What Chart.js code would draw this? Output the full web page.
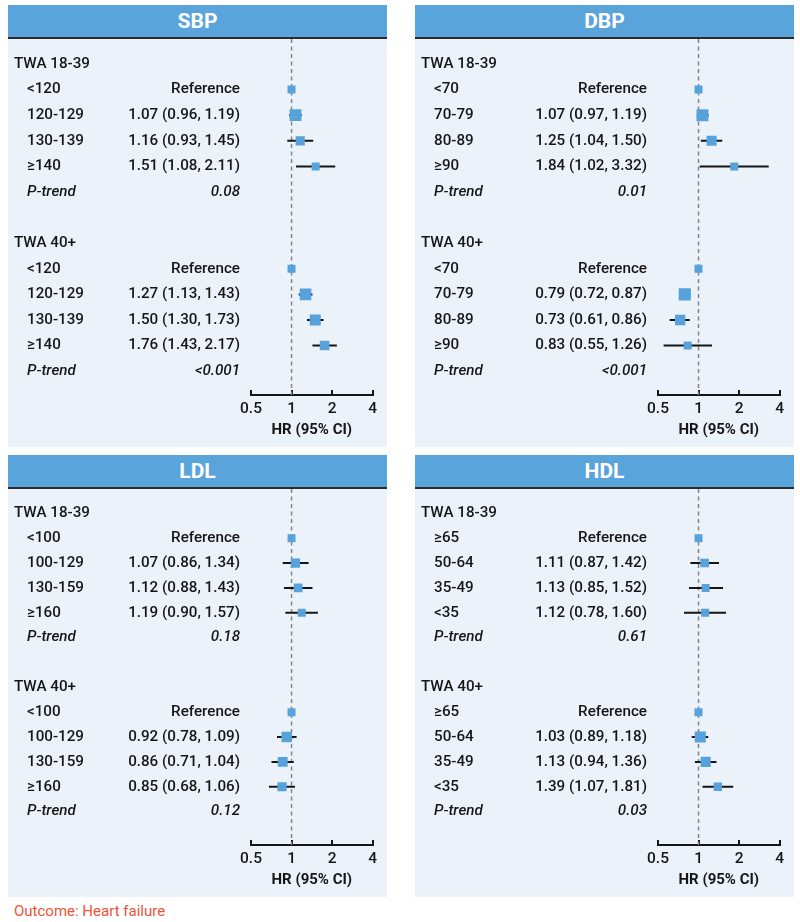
<!DOCTYPE html>
<html>
<head>
<meta charset="utf-8">
<script src="https://cdn.jsdelivr.net/npm/chart.js@4.4.0/dist/chart.umd.min.js"></script>
<style>
  body { margin: 0; background: #fff; width: 800px; height: 922px; position: relative; font-family: Roboto, sans-serif; }
  .panel { position: absolute; width: 379px; }
  .head { height: 32px; background: #5aa4dc; border-bottom: 2px solid #2b2b2b; color: #fff; font-weight: bold; font-size: 21px; line-height: 33px; text-align: center; }
  .body { background: #ebf2fa; height: 408px; }
  canvas { display: block; }
  #note { position: absolute; left: 14px; top: 902px; color: #ee5339; font-size: 15px; }
</style>
</head>
<body>
<div class="panel" style="left:8px;top:5px"><div class="head">SBP</div><div class="body"><canvas id="sbp" width="379" height="408"></canvas></div></div>
<div class="panel" style="left:415px;top:5px"><div class="head">DBP</div><div class="body"><canvas id="dbp" width="379" height="408"></canvas></div></div>
<div class="panel" style="left:8px;top:455px"><div class="head">LDL</div><div class="body"><canvas id="ldl" width="379" height="408"></canvas></div></div>
<div class="panel" style="left:415px;top:455px"><div class="head">HDL</div><div class="body"><canvas id="hdl" width="379" height="408"></canvas></div></div>
<div id="note">Outcome: Heart failure</div>
<script>
// tick labels on the HR axis
const xTicks = [0.5, 1, 2, 4];
const groupNames = ['TWA 18-39', 'TWA 40+'];

// SBP
const sbpCats = ['<120', '120-129', '130-139', '≥140'];
const sbpYoungHR = [1, 1.07, 1.16, 1.51];
const sbpYoungLo = [null, 0.96, 0.93, 1.08];
const sbpYoungHi = [null, 1.19, 1.45, 2.11];
const sbpYoungP = '0.08';
const sbpOldHR = [1, 1.27, 1.50, 1.76];
const sbpOldLo = [null, 1.13, 1.30, 1.43];
const sbpOldHi = [null, 1.43, 1.73, 2.17];
const sbpOldP = '<0.001';

// DBP
const dbpCats = ['<70', '70-79', '80-89', '≥90'];
const dbpYoungHR = [1, 1.07, 1.25, 1.84];
const dbpYoungLo = [null, 0.97, 1.04, 1.02];
const dbpYoungHi = [null, 1.19, 1.50, 3.32];
const dbpYoungP = '0.01';
const dbpOldHR = [1, 0.79, 0.73, 0.83];
const dbpOldLo = [null, 0.72, 0.61, 0.55];
const dbpOldHi = [null, 0.87, 0.86, 1.26];
const dbpOldP = '<0.001';

// LDL
const ldlCats = ['<100', '100-129', '130-159', '≥160'];
const ldlYoungHR = [1, 1.07, 1.12, 1.19];
const ldlYoungLo = [null, 0.86, 0.88, 0.90];
const ldlYoungHi = [null, 1.34, 1.43, 1.57];
const ldlYoungP = '0.18';
const ldlOldHR = [1, 0.92, 0.86, 0.85];
const ldlOldLo = [null, 0.78, 0.71, 0.68];
const ldlOldHi = [null, 1.09, 1.04, 1.06];
const ldlOldP = '0.12';

// HDL
const hdlCats = ['≥65', '50-64', '35-49', '<35'];
const hdlYoungHR = [1, 1.11, 1.13, 1.12];
const hdlYoungLo = [null, 0.87, 0.85, 0.78];
const hdlYoungHi = [null, 1.42, 1.52, 1.60];
const hdlYoungP = '0.61';
const hdlOldHR = [1, 1.03, 1.13, 1.39];
const hdlOldLo = [null, 0.89, 0.94, 1.07];
const hdlOldHi = [null, 1.18, 1.36, 1.81];
const hdlOldP = '0.03';

const TEXT = '#161616';
const BLUE = '#58a2db';
const FONT = 'Roboto';
const FS = 15.2;

function fmt(v) { return v.toFixed(2); }

// box side in px: smaller boxes for wider intervals
function boxSide(lo, hi) {
  if (lo == null) return 8;
  const w = Math.log(hi / lo);
  return Math.max(8, Math.min(12.5, 8 + 4 * (0.55 - w) / 0.35));
}

function buildRows(cats, groups) {
  const rows = [];
  groups.forEach((g, gi) => {
    if (gi) rows.push({ label: '' });
    rows.push({ label: groupNames[gi], group: true });
    cats.forEach((c, i) => rows.push({
      label: c,
      value: g.lo[i] == null ? 'Reference' : `${fmt(g.hr[i])} (${fmt(g.lo[i])}, ${fmt(g.hi[i])})`,
      hr: g.hr[i], lo: g.lo[i], hi: g.hi[i]
    }));
    rows.push({ label: 'P-trend', value: g.p, italic: true });
  });
  return rows;
}

function rowText(rows) {
  return {
    id: 'rowText',
    beforeDatasetsDraw(chart) {
      const ctx = chart.ctx, ys = chart.scales.y;
      ctx.save();
      ctx.fillStyle = TEXT;
      ctx.textBaseline = 'middle';
      rows.forEach((r, i) => {
        if (!r.label) return;
        const py = ys.getPixelForValue(i);
        ctx.font = (r.italic ? 'italic ' : '') + '500 ' + FS + 'px ' + FONT;
        ctx.textAlign = 'left';
        ctx.fillText(r.label, r.group ? 6 : 19, py);
        if (r.value) {
          ctx.textAlign = 'right';
          ctx.fillText(r.value, 232, py);
        }
      });
      ctx.restore();
    }
  };
}

function forest(id, cats, groups, rowTop, rowStep) {
  const rows = buildRows(cats, groups);
  const axisY = 356;
  const yMin = -rowTop / rowStep;
  const yMax = yMin + axisY / rowStep;

  const boxes = [], sides = [], whiskers = [];
  rows.forEach((r, i) => {
    if (r.hr == null) return;
    boxes.push({ x: r.hr, y: i });
    sides.push(boxSide(r.lo, r.hi));
    if (r.lo != null) {
      whiskers.push({ x: r.lo, y: i }, { x: r.hi, y: i }, { x: r.hi, y: null });
    }
  });

  new Chart(document.getElementById(id), {
    type: 'scatter',
    data: {
      datasets: [
        { data: boxes, pointStyle: 'rect', backgroundColor: BLUE, borderWidth: 0,
          pointRadius: sides.map(s => s / (2 * Math.SQRT1_2)), pointHoverRadius: sides.map(s => s / (2 * Math.SQRT1_2)), order: 1 },
        { data: whiskers, showLine: true, borderColor: TEXT, borderWidth: 2, pointRadius: 0, spanGaps: false, order: 2 },
        { data: [{ x: 1, y: yMin }, { x: 1, y: yMax }], showLine: true, borderColor: '#858585', borderWidth: 1.5,
          borderDash: [4, 3.5], pointRadius: 0, order: 3 }
      ]
    },
    options: {
      responsive: false,
      animation: false,
      layout: { autoPadding: false, padding: { left: 243, right: 14, top: 0, bottom: 0 } },
      plugins: { legend: { display: false }, tooltip: { enabled: false } },
      scales: {
        x: {
          type: 'logarithmic', min: 0.5, max: 4, position: 'bottom',
          afterBuildTicks: s => { s.ticks = xTicks.map(v => ({ value: v })); },
          afterFit: s => { s.height = 408 - axisY; },
          ticks: { callback: v => String(v), autoSkip: false, maxRotation: 0, color: TEXT,
                   font: { family: FONT, size: 15.5, weight: 500 }, padding: 10 },
          grid: { display: true, drawOnChartArea: false, drawTicks: true, tickLength: -5, color: TEXT, lineWidth: 2 },
          border: { display: true, color: TEXT, width: 2 },
          title: { display: true, text: 'HR (95% CI)', color: TEXT,
                   font: { family: FONT, size: 15, weight: 'bold' }, padding: { top: 0, bottom: 8 } }
        },
        y: { type: 'linear', reverse: true, min: yMin, max: yMax, display: false }
      }
    },
    plugins: [rowText(rows)]
  });
}

forest('sbp', sbpCats, [
  { hr: sbpYoungHR, lo: sbpYoungLo, hi: sbpYoungHi, p: sbpYoungP },
  { hr: sbpOldHR, lo: sbpOldLo, hi: sbpOldHi, p: sbpOldP }
], 25, 25.6);
forest('dbp', dbpCats, [
  { hr: dbpYoungHR, lo: dbpYoungLo, hi: dbpYoungHi, p: dbpYoungP },
  { hr: dbpOldHR, lo: dbpOldLo, hi: dbpOldHi, p: dbpOldP }
], 25, 25.6);
forest('ldl', ldlCats, [
  { hr: ldlYoungHR, lo: ldlYoungLo, hi: ldlYoungHi, p: ldlYoungP },
  { hr: ldlOldHR, lo: ldlOldLo, hi: ldlOldHi, p: ldlOldP }
], 24.3, 24.86);
forest('hdl', hdlCats, [
  { hr: hdlYoungHR, lo: hdlYoungLo, hi: hdlYoungHi, p: hdlYoungP },
  { hr: hdlOldHR, lo: hdlOldLo, hi: hdlOldHi, p: hdlOldP }
], 24.3, 24.86);
</script>
</body>
</html>
